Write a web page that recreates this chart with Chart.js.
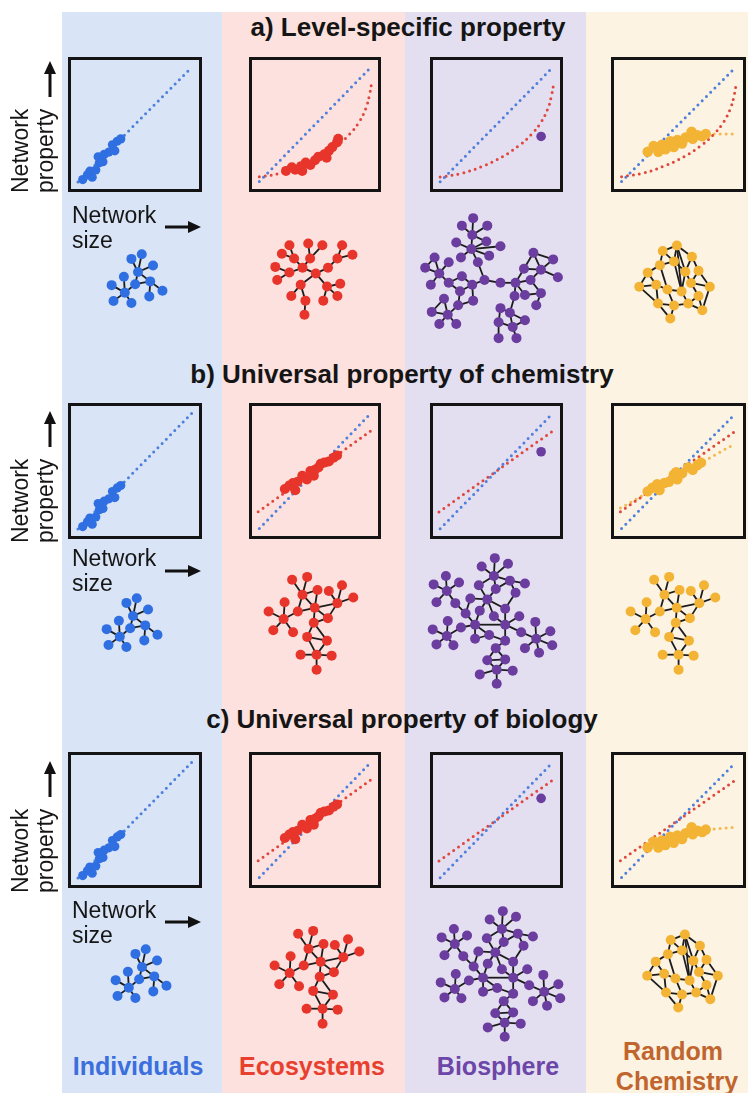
<!DOCTYPE html>
<html>
<head>
<meta charset="utf-8">
<script src="https://cdn.jsdelivr.net/npm/chart.js@4.4.0/dist/chart.umd.min.js"></script>
<style>
  html, body { margin: 0; padding: 0; background: #ffffff; }
  body { width: 748px; height: 1093px; position: relative; overflow: hidden;
         font-family: "Liberation Sans", Arial, Helvetica, sans-serif; color: #151515; }
  .col { position: absolute; top: 12px; height: 1081px; }
  .box { position: absolute; border: 3px solid #141414; box-sizing: border-box; }
  .box canvas { position: absolute; left: 0; top: 0; }
  .net { position: absolute; }
  .title { position: absolute; font-weight: bold; font-size: 26px; line-height: 26px;
           white-space: nowrap; transform: translateX(-50%); }
  .axl { position: absolute; font-size: 23px; line-height: 25px; white-space: nowrap; }
  .rot { transform-origin: 0 0; transform: rotate(-90deg); }
  .lab { position: absolute; font-weight: bold; font-size: 25px; line-height: 25px;
         white-space: nowrap; transform: translateX(-50%); }
  svg.arrow { position: absolute; overflow: visible; }
</style>
</head>
<body>
<div class="col" style="left:62px;width:160px;background:#d9e4f6"></div>
<div class="col" style="left:222px;width:183px;background:#fce1de"></div>
<div class="col" style="left:405px;width:181px;background:#e4dff0"></div>
<div class="col" style="left:586px;width:162px;background:#fdf3e2"></div>

<div class="title" style="left:408px;top:14px">a) Level-specific property</div>
<div class="title" style="left:402px;top:361px">b) Universal property of chemistry</div>
<div class="title" style="left:402px;top:706px">c) Universal property of biology</div>

<div class="lab" style="left:138px;top:1054px;color:#3a6fdc">Individuals</div>
<div class="lab" style="left:312px;top:1054px;color:#e8402f">Ecosystems</div>
<div class="lab" style="left:498px;top:1054px;color:#6c46a8">Biosphere</div>
<div class="lab" style="left:673px;top:1039px;color:#c0652e">Random</div>
<div class="lab" style="left:677px;top:1069px;color:#c0652e">Chemistry</div>

<script>
// ---------------- scatter panel values (0..1 on both axes) ----------------
const refLineX = [0.02, 0.98];
const refLineY = [0.02, 0.98];

const indivX = [0.06, 0.10, 0.12, 0.14, 0.17, 0.20, 0.19, 0.23, 0.24, 0.28, 0.31, 0.33, 0.35, 0.38];
const indivY = [0.04, 0.08, 0.11, 0.06, 0.12, 0.18, 0.23, 0.19, 0.25, 0.27, 0.33, 0.28, 0.36, 0.38];

// level-specific (row a)
const ecoAX = [0.25, 0.30, 0.33, 0.38, 0.39, 0.42, 0.46, 0.50, 0.53, 0.58, 0.60, 0.62, 0.65, 0.69, 0.70];
const ecoAY = [0.11, 0.14, 0.12, 0.15, 0.11, 0.18, 0.16, 0.20, 0.23, 0.25, 0.22, 0.28, 0.31, 0.35, 0.38];
const ecoCurveX = [0.02, 0.20, 0.38, 0.55, 0.70, 0.80, 0.88, 0.94, 0.97, 0.99];
const ecoCurveY = [0.06, 0.09, 0.15, 0.23, 0.33, 0.42, 0.52, 0.64, 0.75, 0.86];
const chemAX = [0.24, 0.29, 0.33, 0.36, 0.39, 0.43, 0.46, 0.49, 0.53, 0.56, 0.61, 0.62, 0.66, 0.70, 0.73];
const chemAY = [0.27, 0.32, 0.27, 0.33, 0.29, 0.36, 0.31, 0.37, 0.34, 0.39, 0.44, 0.38, 0.41, 0.40, 0.42];
const chemTailX = [0.75, 0.98];
const chemTailY = [0.42, 0.42];

// universal (rows b and c)
const ecoBX = [0.24, 0.28, 0.31, 0.33, 0.35, 0.39, 0.43, 0.46, 0.49, 0.50, 0.53, 0.55, 0.58, 0.62, 0.66, 0.69];
const ecoBY = [0.35, 0.38, 0.40, 0.34, 0.41, 0.46, 0.43, 0.50, 0.46, 0.51, 0.53, 0.56, 0.57, 0.58, 0.61, 0.63];
const ecoLineX = [0.01, 0.99];
const ecoLineY = [0.16, 0.84];
const chemBX = [0.24, 0.28, 0.32, 0.34, 0.38, 0.42, 0.46, 0.48, 0.49, 0.53, 0.58, 0.62, 0.66, 0.69];
const chemBY = [0.33, 0.36, 0.39, 0.34, 0.40, 0.41, 0.47, 0.49, 0.43, 0.48, 0.53, 0.51, 0.55, 0.57];
const chemLineX = [0.01, 0.98];
const chemLineY = [0.19, 0.73];
const chemTailCX = [0.75, 0.98];
const chemTailCY = [0.42, 0.44];

const bioX = [0.88];
const bioYA = [0.40];
const bioYB = [0.66];
const bioYC = [0.68];

// ---------------- network layouts (local units, centre at 0,0) ----------------
const blueNodeX = [0, -7, 4, 16, 13, -3, -15, -28, -14, -26, -7, 26, 12];
const blueNodeY = [0, -14, -19, -7, 10, 13, 5, 14, 22, 31, 33, 20, 26];
const blueEdges = [[0,1],[0,2],[0,3],[0,4],[0,5],[4,5],[4,11],[4,12],[5,8],[8,6],[8,7],[8,9],[8,10]];

const treeNodeX = [-10, 4, -19, -24, -32, -2, -4, 11, -24, -39, -37, 17, 27, 32, 43, -12, -22, -7, -8, 16, 30, 12, 27];
const treeNodeY = [-13, -7, -23, -37, -28, -23, -39, -37, -8, -14, 0, -13, -23, -37, -27, 5, 17, 22, 37, 7, 4, 22, 17];
const treeEdges = [[0,1],[0,2],[2,3],[2,4],[0,5],[5,6],[5,7],[0,8],[8,9],[8,10],[1,11],[11,12],[12,13],[12,14],
                   [1,15],[15,16],[15,17],[17,18],[1,19],[19,20],[19,21],[19,22]];

const meshNodeX = [-19, -3, 8, -8, 20, 34, 46, 29, -27, -44, -13, 5, 19, -28, -39, -18, 4, -3, 18, 7, -10, 23, 7];
const meshNodeY = [-43, -46, -32, -27, -31, -37, -24, -18, -19, -9, -9, -13, -2, -1, 11, 13, 3, 18, 22, 37, 37, 38, 53];
const meshEdges = [[3,0],[3,1],[3,2],[3,10],[3,11],[2,11],[10,11],[11,7],[11,12],[11,16],[7,4],[7,5],[7,6],[7,12],
                   [13,8],[13,9],[13,14],[13,15],[13,10],[12,16],[16,17],[16,18],[17,18],[17,19],[18,19],
                   [19,20],[19,21],[19,22]];

const bioANodeX = [-20, -32, -5, -21, -38, -6, 9, -22, -33, -3, -15, -61, -46, -71, -56, -32, -65, -46, -34, -21, -8,
                   9, 25, 44, 65, 34, 52, 70, 41, 35, 52, 24, 47, -20, -36, -51, -64, -47, -56, -38, 9, 19, 7, 22, 35, 7, 26];
const bioANodeY = [-66, -58, -58, -48, -40, -41, -36, -33, -24, -26, -19, -24, -19, -13, -7, -4, 5, 3, 12, 5, 0,
                   3, 3, -29, -22, -12, -11, -3, 0, 16, 14, 17, 27, 22, 27, 20, 34, 37, 47, 47, 30, 35, 45, 50, 43, 62, 62];
const bioAEdges = [[3,0],[3,1],[3,2],[3,7],[3,5],[5,7],[7,4],[7,6],[7,8],[7,9],[7,10],[10,20],[20,19],[20,21],
                   [14,11],[14,12],[14,13],[14,16],[14,17],[11,13],[17,15],[15,19],[17,18],[18,19],[19,33],[33,34],
                   [18,34],[34,37],[37,35],[37,36],[37,38],[37,39],[35,36],
                   [21,22],[22,25],[22,28],[22,29],[22,31],[28,30],[29,30],[30,32],[25,23],[25,26],[23,26],[23,24],
                   [24,26],[26,27],[26,28],[31,41],[41,40],[41,44],[40,42],[42,43],[43,44],[42,45],[43,46],[41,43]];

const bioBNodeX = [3, -11, 17, 2, 19, 35, 25, 4, -14, -49, -62, -35, -48, -59, -39, -23, -5, 14, -28, -13, 2, 29,
                   -18, 14, -47, -63, -33, -48, -59, -41, -3, -18, 14, 31, 46, 62, 47, 35, 64, 50, 4, -5, 14, 5, -13, 22, 5];
const bioBNodeY = [-66, -57, -60, -47, -42, -39, -29, -33, -37, -47, -38, -40, -31, -19, -18, -23, -22, -12, -7, -10, -4, -4,
                   5, 5, 1, 10, 8, 17, 26, 27, 16, 20, 22, 13, 2, 12, 20, 30, 27, 35, 30, 43, 42, 53, 58, 54, 68];
const bioBEdges = [[3,0],[3,1],[3,2],[3,4],[4,5],[4,6],[3,7],[4,7],[7,16],[8,16],[3,8],
                   [12,9],[12,10],[12,11],[12,13],[12,14],[14,18],
                   [16,15],[16,19],[16,20],[16,17],[15,18],[6,17],
                   [18,22],[19,22],[22,23],[20,23],[17,23],[23,21],[23,33],[23,32],[22,31],[22,30],[30,32],[31,30],
                   [22,26],[27,24],[27,25],[27,26],[27,28],[27,29],
                   [36,33],[36,34],[36,35],[36,37],[36,38],[36,39],
                   [32,40],[40,41],[40,42],[41,42],[43,41],[43,42],[43,44],[43,45],[43,46]];

const chemNodeX = [-13, 2, 18, -16, -1, -29, 11, 25, -38, -20, -8, 7, 17, 37, -18, -1, 14, 25, 29, -5];
const chemNodeY = [-33, -39, -27, -18, -22, -10, -11, -12, 5, 3, 8, 10, 1, 5, 23, 25, 23, 15, 30, 39];
const chemEdges = [[0,1],[1,2],[0,3],[0,4],[1,4],[1,6],[2,7],[3,5],[3,4],[4,6],[5,8],[5,9],[6,12],[6,11],
                   [7,12],[7,13],[8,9],[8,14],[9,10],[9,14],[10,11],[10,15],[11,16],[12,13],[12,17],[13,18],
                   [14,15],[14,19],[15,16],[15,19],[16,17],[16,18],[17,18],[4,11],[3,10],[2,6],[1,11]];

// ---------------- colours ----------------
const C_BLUE = '#2f6fe2', C_BLUE_LINE = '#4d7fdd';
const C_RED = '#e8352b', C_RED_LINE = '#e0463c';
const C_PURPLE = '#6a3d9f';
const C_ORANGE = '#f3b334', C_ORANGE_LINE = '#f2b84e';

// ---------------- helpers ----------------
const xy = (xs, ys) => xs.map((x, i) => ({ x: x, y: ys[i] }));

function dotted(xs, ys, color, tension) {
  return { data: xy(xs, ys), showLine: true, borderColor: color, borderWidth: 3,
           borderDash: [0, 6], borderCapStyle: 'round', pointRadius: 0, tension: tension || 0,
           fill: false, order: 2, clip: false };
}
function dots(xs, ys, color, r) {
  return { data: xy(xs, ys), showLine: false, pointRadius: r, pointBackgroundColor: color,
           backgroundColor: color, pointBorderWidth: 0, borderWidth: 0, order: 1, clip: false };
}
function baseOptions(xmin, xmax, ymin, ymax, reverseY) {
  return {
    responsive: false, animation: false, events: [], devicePixelRatio: 1,
    layout: { padding: 0 },
    plugins: { legend: { display: false }, tooltip: { enabled: false } },
    scales: {
      x: { type: 'linear', min: xmin, max: xmax, display: false },
      y: { type: 'linear', min: ymin, max: ymax, display: false, reverse: !!reverseY }
    }
  };
}

function panel(left, top, w, h, datasets) {
  const div = document.createElement('div');
  div.className = 'box';
  div.style.left = left + 'px'; div.style.top = top + 'px';
  div.style.width = w + 'px'; div.style.height = h + 'px';
  const c = document.createElement('canvas');
  c.width = w - 6; c.height = h - 6;
  div.appendChild(c);
  document.body.appendChild(div);
  new Chart(c, { type: 'scatter', data: { datasets: datasets }, options: baseOptions(0, 1, 0, 1, false) });
}

function network(cx, cy, nx, ny, edges, color) {
  const W = 170, H = 160;
  const c = document.createElement('canvas');
  c.className = 'net';
  c.width = W; c.height = H;
  c.style.left = (cx - W / 2) + 'px'; c.style.top = (cy - H / 2) + 'px';
  document.body.appendChild(c);
  const datasets = [{ data: xy(nx, ny), showLine: false, pointRadius: 5, pointBackgroundColor: color,
                      backgroundColor: color, pointBorderWidth: 0, borderWidth: 0, order: 1, clip: false }];
  edges.forEach(e => {
    datasets.push({ data: [{ x: nx[e[0]], y: ny[e[0]] }, { x: nx[e[1]], y: ny[e[1]] }], showLine: true,
                    borderColor: '#1c1c1c', borderWidth: 1.8, pointRadius: 0, order: 2, clip: false });
  });
  new Chart(c, { type: 'scatter', data: { datasets: datasets },
                 options: baseOptions(-W / 2, W / 2, -H / 2, H / 2, true) });
}

function arrow(x, y, vertical) {
  const ns = 'http://www.w3.org/2000/svg';
  const s = document.createElementNS(ns, 'svg');
  s.setAttribute('class', 'arrow');
  s.setAttribute('width', '36'); s.setAttribute('height', '14');
  s.style.left = x + 'px'; s.style.top = y + 'px';
  if (vertical) { s.style.transformOrigin = '0 0'; s.style.transform = 'rotate(-90deg)'; }
  s.innerHTML = '<line x1="0" y1="7" x2="26" y2="7" stroke="#111" stroke-width="3"/>' +
                '<polygon points="23,1 36,7 23,13" fill="#111"/>';
  document.body.appendChild(s);
}

function axisLabels(rowTop, sizeTop, sizeArrowY) {
  const v = document.createElement('div');
  v.className = 'axl rot';
  v.style.left = '8px'; v.style.top = rowTop + 'px';
  v.innerHTML = 'Network<br>property';
  document.body.appendChild(v);
  arrow(43, rowTop - 96, true);
  const h = document.createElement('div');
  h.className = 'axl';
  h.style.left = '72px'; h.style.top = sizeTop + 'px';
  h.innerHTML = 'Network<br>size';
  document.body.appendChild(h);
  arrow(165, sizeArrowY - 7, false);
}

// ---------------- panels ----------------
const colLeft = [68, 249, 430, 611];
const colW = [134, 132, 133, 135];
const rowTop = [57, 403, 752];
const rowH = [135, 136, 136];

// row a : level-specific property
panel(colLeft[0], rowTop[0], colW[0], rowH[0], [
  dotted(refLineX, refLineY, C_BLUE_LINE), dots(indivX, indivY, C_BLUE, 4.6)]);
panel(colLeft[1], rowTop[0], colW[1], rowH[0], [
  dotted(refLineX, refLineY, C_BLUE_LINE), dotted(ecoCurveX, ecoCurveY, C_RED_LINE, 0.4),
  dots(ecoAX, ecoAY, C_RED, 5)]);
panel(colLeft[2], rowTop[0], colW[2], rowH[0], [
  dotted(refLineX, refLineY, C_BLUE_LINE), dotted(ecoCurveX, ecoCurveY, C_RED_LINE, 0.4),
  dots(bioX, bioYA, C_PURPLE, 4.8)]);
panel(colLeft[3], rowTop[0], colW[3], rowH[0], [
  dotted(refLineX, refLineY, C_BLUE_LINE), dotted(ecoCurveX, ecoCurveY, C_RED_LINE, 0.4),
  dotted(chemTailX, chemTailY, C_ORANGE_LINE), dots(chemAX, chemAY, C_ORANGE, 5.2)]);

// row b : universal property of chemistry
panel(colLeft[0], rowTop[1], colW[0], rowH[1], [
  dotted(refLineX, refLineY, C_BLUE_LINE), dots(indivX, indivY, C_BLUE, 4.6)]);
panel(colLeft[1], rowTop[1], colW[1], rowH[1], [
  dotted(refLineX, refLineY, C_BLUE_LINE), dotted(ecoLineX, ecoLineY, C_RED_LINE),
  dots(ecoBX, ecoBY, C_RED, 5)]);
panel(colLeft[2], rowTop[1], colW[2], rowH[1], [
  dotted(refLineX, refLineY, C_BLUE_LINE), dotted(ecoLineX, ecoLineY, C_RED_LINE),
  dots(bioX, bioYB, C_PURPLE, 4.8)]);
panel(colLeft[3], rowTop[1], colW[3], rowH[1], [
  dotted(refLineX, refLineY, C_BLUE_LINE), dotted(ecoLineX, ecoLineY, C_RED_LINE),
  dotted(chemLineX, chemLineY, C_ORANGE_LINE), dots(chemBX, chemBY, C_ORANGE, 5.2)]);

// row c : universal property of biology
panel(colLeft[0], rowTop[2], colW[0], rowH[2], [
  dotted(refLineX, refLineY, C_BLUE_LINE), dots(indivX, indivY, C_BLUE, 4.6)]);
panel(colLeft[1], rowTop[2], colW[1], rowH[2], [
  dotted(refLineX, refLineY, C_BLUE_LINE), dotted(ecoLineX, ecoLineY, C_RED_LINE),
  dots(ecoBX, ecoBY, C_RED, 5)]);
panel(colLeft[2], rowTop[2], colW[2], rowH[2], [
  dotted(refLineX, refLineY, C_BLUE_LINE), dotted(ecoLineX, ecoLineY, C_RED_LINE),
  dots(bioX, bioYC, C_PURPLE, 4.8)]);
panel(colLeft[3], rowTop[2], colW[3], rowH[2], [
  dotted(refLineX, refLineY, C_BLUE_LINE), dotted(ecoLineX, ecoLineY, C_RED_LINE),
  dotted(chemTailCX, chemTailCY, C_ORANGE_LINE), dots(chemAX, chemAY, C_ORANGE, 5.2)]);

// ---------------- networks ----------------
network(138, 272, blueNodeX, blueNodeY, blueEdges, C_BLUE);
network(133, 616, blueNodeX, blueNodeY, blueEdges, C_BLUE);
network(142, 967, blueNodeX, blueNodeY, blueEdges, C_BLUE);

network(312, 280, treeNodeX, treeNodeY, treeEdges, C_RED);
network(310, 620, meshNodeX, meshNodeY, meshEdges, C_RED);
network(316, 974, meshNodeX, meshNodeY, meshEdges, C_RED);

network(492, 280, bioANodeX, bioANodeY, bioAEdges, C_PURPLE);
network(492, 620, bioBNodeX, bioBNodeY, bioBEdges, C_PURPLE);
network(500, 973, bioBNodeX, bioBNodeY, bioBEdges, C_PURPLE);

network(675, 282, chemNodeX, chemNodeY, chemEdges, C_ORANGE);
network(672, 620, meshNodeX, meshNodeY, meshEdges, C_ORANGE);
network(683, 971, chemNodeX, chemNodeY, chemEdges, C_ORANGE);

// ---------------- axis captions ----------------
axisLabels(193, 202.5, 227);
axisLabels(543, 545.5, 571);
axisLabels(893, 897.5, 922);
</script>
</body>
</html>
